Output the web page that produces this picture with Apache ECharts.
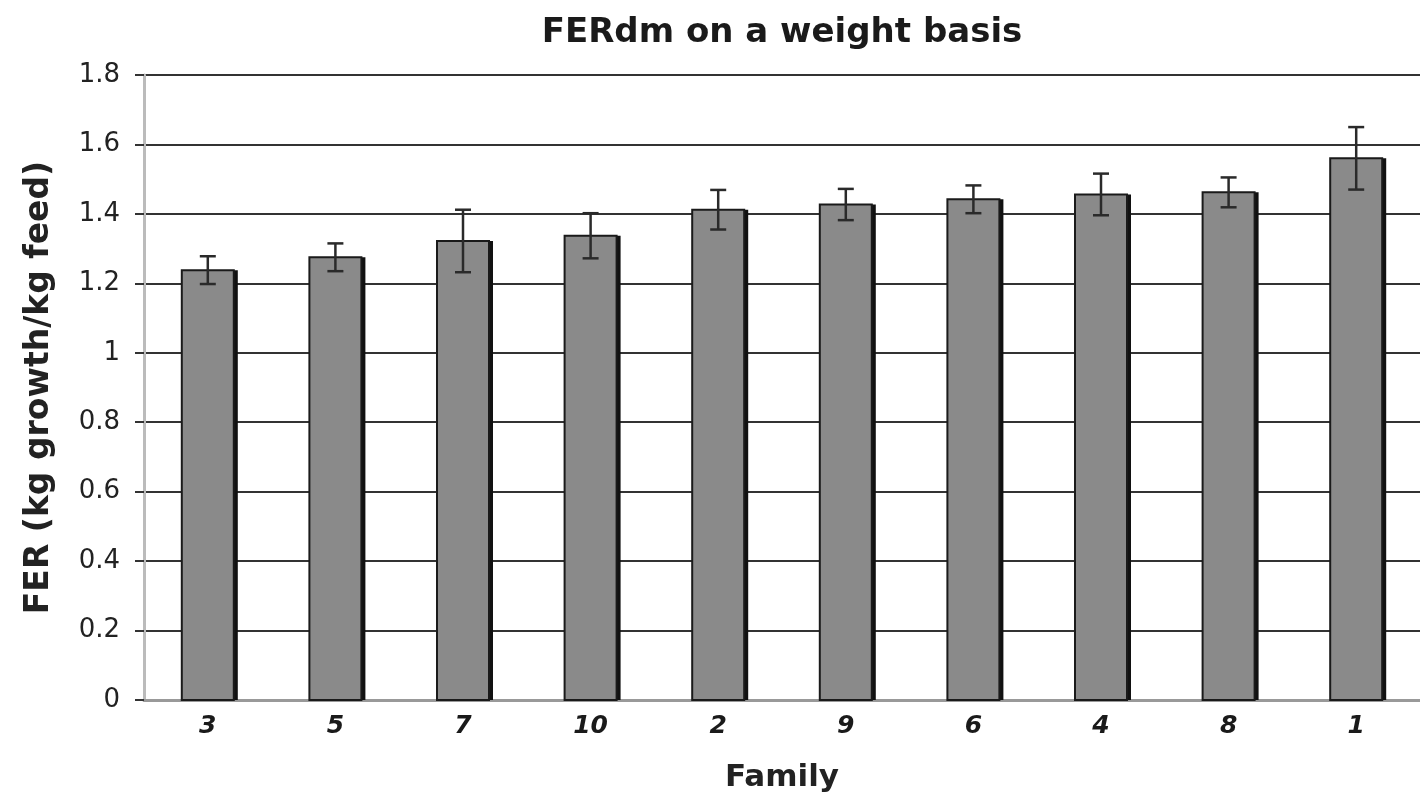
<!DOCTYPE html>
<html>
<head>
<meta charset="utf-8">
<script src="https://cdn.jsdelivr.net/npm/echarts@6/dist/echarts.min.js"></script>
<style>
html,body{margin:0;padding:0;background:#fff;}
#chart{width:1420px;height:807px;}
</style>
</head>
<body>
<div id="chart"></div>
<script>
const families = ['3','5','7','10','2','9','6','4','8','1'];
const ferValues = [1.238, 1.275, 1.322, 1.337, 1.412, 1.427, 1.442, 1.456, 1.462, 1.56];
const ferErrors = [0.04, 0.04, 0.09, 0.065, 0.057, 0.045, 0.04, 0.06, 0.043, 0.09];
const yTicks = [0, 0.2, 0.4, 0.6, 0.8, 1, 1.2, 1.4, 1.6, 1.8];

const barData = ferValues.map((v, i) => [i, v]);
const errData = ferValues.map((v, i) => [i, v + ferErrors[i], v - ferErrors[i]]);

const chart = echarts.init(document.getElementById('chart'));
chart.setOption({
  backgroundColor: '#fff',
  animation: false,
  title: {
    text: 'FERdm on a weight basis',
    left: 777,
    textAlign: 'center',
    top: 11,
    textStyle: { fontFamily: 'DejaVu Sans', fontWeight: 'bold', fontSize: 34, color: '#1a1a1a' }
  },
  grid: { left: 144, top: 75, width: 1287, height: 625 },
  xAxis: {
    type: 'category',
    data: families,
    name: 'Family',
    nameLocation: 'middle',
    nameGap: 62,
    nameTextStyle: { fontFamily: 'DejaVu Sans', fontWeight: 'bold', fontSize: 31, color: '#222' },
    axisLine: { show: true, lineStyle: { color: '#999', width: 3 } },
    axisTick: { show: false },
    axisLabel: { margin: 14, fontFamily: 'DejaVu Sans', fontWeight: 'bold', fontStyle: 'italic', fontSize: 25, color: '#1a1a1a' },
    splitLine: { show: false }
  },
  yAxis: {
    type: 'value',
    min: 0, max: 1.8, interval: 0.2,
    name: 'FER (kg growth/kg feed)',
    nameLocation: 'middle',
    nameGap: 88,
    nameRotate: 90,
    nameTextStyle: { fontFamily: 'DejaVu Sans', fontWeight: 'bold', fontSize: 33, color: '#222' },
    axisLine: { show: true, lineStyle: { color: '#bbb', width: 3 } },
    axisTick: { show: true, length: 9, lineStyle: { color: '#333', width: 2 } },
    axisLabel: {
      margin: 24, fontFamily: 'DejaVu Sans', fontWeight: 500, fontSize: 26, color: '#222',
      formatter: v => { const t = yTicks.find(x => Math.abs(x - v) < 1e-9); return t === undefined ? '' : String(t); }
    },
    splitLine: { show: true, lineStyle: { color: '#333', width: 2 } }
  },
  series: [
    {
      type: 'custom',
      data: barData,
      z: 2,
      renderItem: function (params, api) {
        const i = api.value(0);
        const top = api.coord([i, api.value(1)]);
        const base = api.coord([i, 0]);
        const w = 52;
        const x0 = top[0] - w / 2;
        return {
          type: 'group',
          children: [
            { type: 'rect', shape: { x: x0 + 4, y: top[1], width: w, height: base[1] - top[1] }, style: { fill: '#111' } },
            { type: 'rect', shape: { x: x0, y: top[1], width: w, height: base[1] - top[1] }, style: { fill: '#8a8a8a', stroke: '#1a1a1a', lineWidth: 2 } }
          ]
        };
      }
    },
    {
      type: 'custom',
      data: errData,
      z: 3,
      renderItem: function (params, api) {
        const i = api.value(0);
        const hi = api.coord([i, api.value(1)]);
        const lo = api.coord([i, api.value(2)]);
        const hw = 8;
        const style = { stroke: '#2a2a2a', lineWidth: 2.5 };
        return {
          type: 'group',
          children: [
            { type: 'line', shape: { x1: hi[0], y1: hi[1], x2: lo[0], y2: lo[1] }, style: style },
            { type: 'line', shape: { x1: hi[0] - hw, y1: hi[1], x2: hi[0] + hw, y2: hi[1] }, style: style },
            { type: 'line', shape: { x1: lo[0] - hw, y1: lo[1], x2: lo[0] + hw, y2: lo[1] }, style: style }
          ]
        };
      }
    }
  ]
});
</script>
</body>
</html>
